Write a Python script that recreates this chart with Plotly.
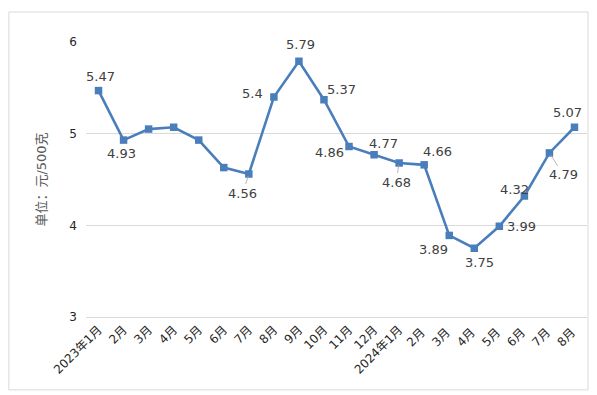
import plotly.graph_objects as go

months = ["2023年1月", "2月", "3月", "4月", "5月", "6月", "7月", "8月", "9月", "10月",
          "11月", "12月", "2024年1月", "2月 ", "3月 ", "4月 ", "5月 ", "6月 ", "7月 ", "8月 "]
prices = [5.47, 4.93, 5.05, 5.07, 4.93, 4.63, 4.56, 5.40, 5.79, 5.37,
          4.86, 4.77, 4.68, 4.66, 3.89, 3.75, 3.99, 4.32, 4.79, 5.07]
labels = ["5.47", "4.93", "", "", "", "", "4.56", "5.4", "5.79", "5.37",
          "4.86", "4.77", "4.68", "4.66", "3.89", "3.75", "3.99", "4.32", "4.79", "5.07"]
# label offsets in pixels (dx, dy) and whether a leader line is drawn
offsets = [(2, -14, False), (-2, 13, False), None, None, None, None, (-6, 19, True),
           (-21, -4, False), (2, -17, False), (18, -10, False), (-20, 6, False),
           (9, -11, False), (-3, 19, True), (13, -13, False), (-16, 14, False),
           (5, 14, False), (22, 0, False), (-10, -7, False), (14, 22, True), (-7, -15, False)]

LINE = "#4a7ebb"
FONT = "DejaVu Sans, Noto Sans CJK SC, sans-serif"

fig = go.Figure()
fig.add_trace(go.Scatter(
    x=months, y=prices, mode="lines+markers",
    line=dict(color=LINE, width=2.6),
    marker=dict(symbol="square", size=7.5, color=LINE),
    cliponaxis=False, hoverinfo="skip", showlegend=False,
))

annotations = []
for m, p, t, off in zip(months, prices, labels, offsets):
    if not t or off is None:
        continue
    dx, dy, leader = off
    if leader:
        annotations.append(dict(
            x=m, y=p, xref="x", yref="y", text=t, showarrow=True,
            arrowhead=0, arrowwidth=0.8, arrowcolor="#a6a6a6",
            ax=dx, ay=dy, standoff=2, startstandoff=0,
            font=dict(family=FONT, size=13, color="#404040"),
            xanchor="center", yanchor="middle",
        ))
    else:
        annotations.append(dict(
            x=m, y=p, xref="x", yref="y", text=t, showarrow=False,
            xshift=dx, yshift=-dy,
            font=dict(family=FONT, size=13, color="#404040"),
            xanchor="center", yanchor="middle",
        ))

fig.update_layout(
    width=589, height=387,
    margin=dict(l=78, r=10, t=34, b=78, autoexpand=False),
    paper_bgcolor="white", plot_bgcolor="white",
    font=dict(family=FONT, color="#404040"),
    annotations=annotations,
    shapes=[dict(type="rect", xref="paper", yref="paper",
                 x0=-0.154, x1=1.002, y0=-0.265, y1=1.109,
                 line=dict(color="#d9d9d9", width=1), layer="below")],
    xaxis=dict(
        type="category", tickangle=-45, showgrid=False,
        range=[-0.5, len(months) - 0.5],
        showline=True, linecolor="#d9d9d9", linewidth=1,
        tickfont=dict(family=FONT, size=12, color="#262626"),
        ticks="", fixedrange=True, automargin=False,
    ),
    yaxis=dict(
        range=[3, 6], dtick=1, showgrid=True, gridcolor="#d9d9d9", gridwidth=1,
        zeroline=False, showline=False, ticks="",
        ticklabelstandoff=8, automargin=False,
        tickfont=dict(family=FONT, size=12, color="#262626"),
        title=dict(text="单位：元/500克", standoff=19,
                   font=dict(family=FONT, size=13, color="#595959")),
        fixedrange=True,
    ),
)

fig.write_html("out.html")
